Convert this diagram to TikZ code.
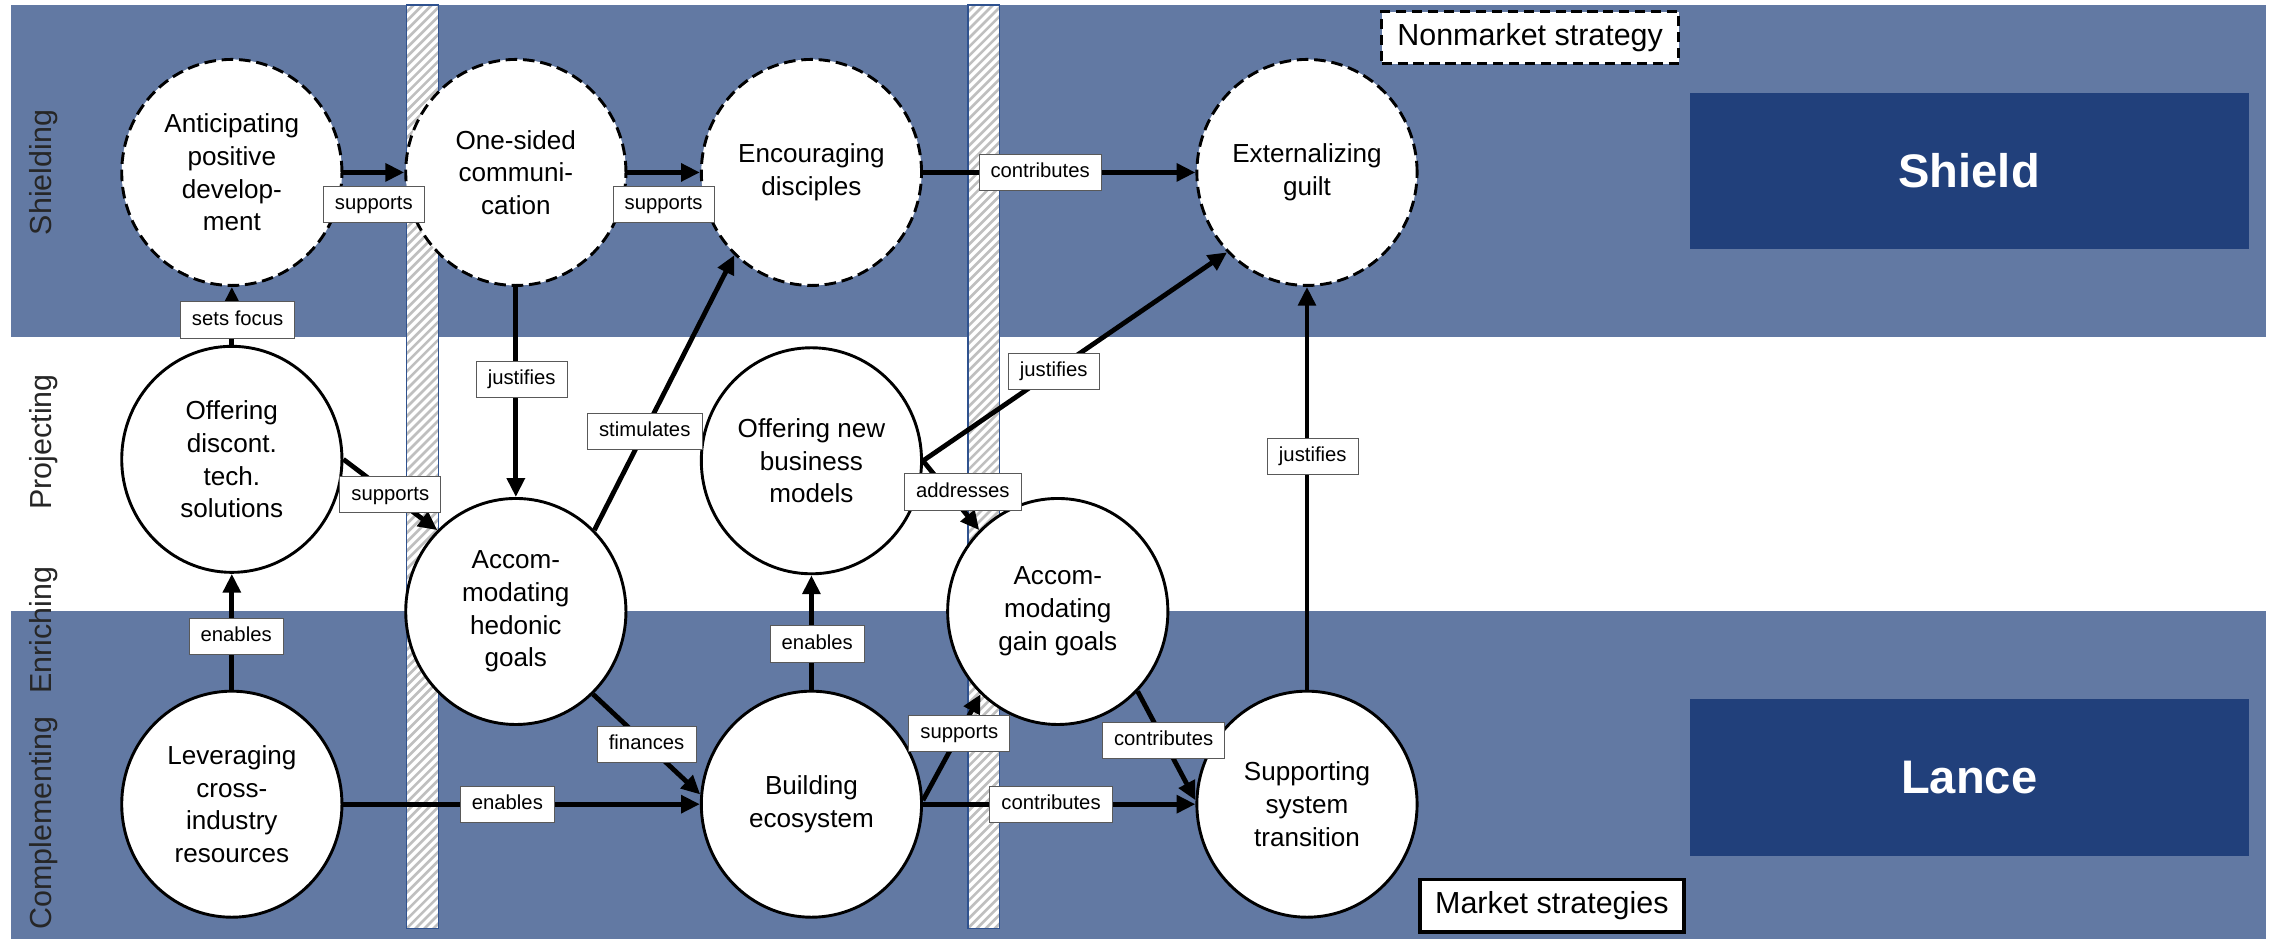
\documentclass[tikz,border=0pt]{standalone}
\usepackage{fontspec}
\setmainfont{Liberation Sans}
\usetikzlibrary{arrows.meta,shapes.geometric}
\definecolor{band}{RGB}{98,121,163}
\definecolor{navy}{RGB}{33,64,123}
\definecolor{barblue}{RGB}{47,82,143}
\begin{document}
\begin{tikzpicture}[x=1pt,y=-1pt,
  circ/.style={ellipse, draw=black, line width=2pt, fill=white, minimum width=152pt, minimum height=156pt, inner sep=0pt, align=center, font=\fontsize{18}{22.6}\selectfont},
  dcirc/.style={circ, dash pattern=on 8pt off 4pt},
  lbl/.style={draw=black!65, line width=0.6pt, fill=white, font=\fontsize{14}{16}\selectfont, inner xsep=8pt, inner ysep=0pt, minimum height=25pt, text height=10.5pt, text depth=3pt},
  arr/.style={line width=3.3pt, -{Triangle[length=13pt,width=12pt]}},
  side/.style={rotate=90, font=\fontsize{21}{24}\selectfont, text=black!85},
  legend/.style={draw=black, fill=white, minimum height=36pt, font=\fontsize{21}{24}\selectfont, inner xsep=6pt},
  bigbox/.style={fill=navy, minimum width=386pt, minimum height=108pt, text=white, font=\bfseries\fontsize{32.5}{36}\selectfont},
]
\useasboundingbox (0,0) rectangle (1568,648);
% bands
\fill[band] (7.6,3.5) rectangle (1563.5,232.5);
\fill[band] (7.6,421.5) rectangle (1563.5,648);
% hatched bars
\foreach \xa in {280.7,668} {
  \begin{scope}
    \clip (\xa,3.5) rectangle ({\xa+22},640.5);
    \fill[white] (\xa,3.5) rectangle ({\xa+22},640.5);
    \foreach \k in {0,...,118}
      \draw[black!25, line width=1.8pt] ({\xa-20},{3.5+\k*6.2}) -- ++(70,-70);
  \end{scope}
  \draw[barblue, line width=0.8pt] (\xa,3.5) rectangle ({\xa+22},640.5);
}
% side labels
\node[side] (s1) at (30,119) {Shielding};
\node[side] (s2) at (30,305) {Projecting};
\node[side] (s3) at (30,435) {Enriching};
\node[side] (s4) at (30,568) {Complementing};
% legend and big boxes
\node[legend, line width=2pt, dash pattern=on 7pt off 4pt, minimum width=205pt] (nonmkt) at (1056,26) {Nonmarket strategy};
\node[legend, line width=2.5pt, minimum width=182pt] (mkt) at (1071,625) {Market strategies};
\node[bigbox] (shield) at (1359,118) {Shield};
\node[bigbox] (lance) at (1359,536.5) {Lance};
% circles
\node[dcirc] (antic) at (160,119) {Anticipating\\positive\\develop-\\ment};
\node[dcirc] (onesided) at (356,119) {One-sided\\communi-\\cation};
\node[dcirc] (encour) at (560,119) {Encouraging\\disciples};
\node[dcirc] (extern) at (902,119) {Externalizing\\guilt};
\node[circ] (offer1) at (160,317) {Offering\\discont.\\tech.\\solutions};
\node[circ] (hedonic) at (356,422) {Accom-\\modating\\hedonic\\goals};
\node[circ] (offer2) at (560,318) {Offering new\\business\\models};
\node[circ] (gain) at (730,422) {Accom-\\modating\\gain goals};
\node[circ] (lever) at (160,555) {Leveraging\\cross-\\industry\\resources};
\node[circ] (build) at (560,555) {Building\\ecosystem};
\node[circ] (support) at (902,555) {Supporting\\system\\transition};
% connectors
\draw[arr] (antic) -- node[lbl, yshift=-22pt]{supports} (onesided);
\draw[arr] (onesided) -- node[lbl, yshift=-22pt]{supports} (encour);
\draw[arr] (encour) -- node[lbl, pos=0.43]{contributes} (extern);
\draw[arr] (offer1) -- node[lbl, pos=0.43, xshift=4pt]{sets focus} (antic);
\draw[arr] (offer1.east) -- node[lbl]{supports} (hedonic.134);
\draw[arr] (onesided) -- node[lbl, pos=0.44, xshift=4pt]{justifies} (hedonic);
\draw[arr] (hedonic.46) -- node[lbl, pos=0.36]{stimulates} (encour.227.5);
\draw[arr] (lever) -- node[lbl, pos=0.46, xshift=3pt]{enables} (offer1);
\draw[arr] (lever) -- node[lbl, pos=0.46]{enables} (build);
\draw[arr] (hedonic.-47.7) -- node[lbl]{finances} (build.175);
\draw[arr] (build) -- node[lbl, pos=0.4, xshift=4pt]{enables} (offer2);
\draw[arr] (build.2) -- node[lbl, pos=0.63]{supports} (gain.227);
\draw[arr] (build) -- node[lbl, pos=0.47]{contributes} (support);
\draw[arr] (gain.-45.5) -- node[lbl, pos=0.45]{contributes} (support.178);
\draw[arr] (offer2.east) -- node[lbl, pos=0.45, xshift=10pt]{addresses} (gain.134);
\draw[arr] (offer2.east) -- node[lbl, pos=0.43]{justifies} (extern.225.5);
\draw[arr] (support) -- node[lbl, pos=0.58, xshift=4pt]{justifies} (extern);
\end{tikzpicture}
\end{document}
